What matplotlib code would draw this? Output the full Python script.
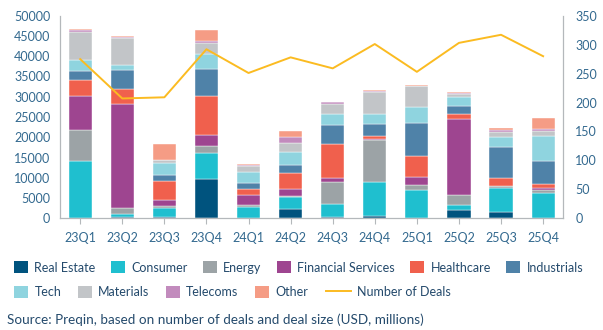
import matplotlib
matplotlib.use("Agg")
import matplotlib.pyplot as plt
from matplotlib.patches import Patch
from matplotlib.lines import Line2D
from matplotlib.ticker import MultipleLocator
import numpy as np

plt.rcParams["font.family"] = ["Lato", "DejaVu Sans"]

quarters = ["23Q1", "23Q2", "23Q3", "23Q4", "24Q1", "24Q2",
            "24Q3", "24Q4", "25Q1", "25Q2", "25Q3", "25Q4"]

# deal size by sector, USD millions
real_estate = [0, 400, 350, 9800, 0, 2200, 300, 450, 0, 1950, 1500, 0]
consumer = [14100, 550, 2300, 6250, 2700, 2950, 3150, 8450, 7050, 1250, 6050, 6300]
energy = [7650, 1500, 400, 1800, 650, 350, 5450, 10400, 1100, 2450, 500, 600]
financial = [8550, 25800, 1400, 2700, 2300, 1750, 1000, 250, 2000, 18750, 0, 650]
healthcare = [3950, 3650, 4750, 9700, 1500, 4000, 8550, 750, 5100, 1400, 1950, 850]
industrials = [2200, 4650, 1500, 6500, 1550, 1850, 4600, 2900, 8250, 1900, 7650, 5750]
tech = [2600, 1300, 2900, 3700, 2650, 3200, 2700, 2550, 3950, 2150, 2400, 6150]
materials = [6900, 6650, 900, 2850, 1650, 2200, 2550, 5300, 5250, 800, 1250, 1300]
telecoms = [400, 300, 0, 400, 150, 1550, 400, 300, 0, 250, 500, 400]
other = [250, 250, 3900, 2700, 300, 1500, 100, 250, 250, 350, 550, 2650]

num_deals = [275, 207, 209, 292, 251, 278, 259, 301, 253, 303, 317, 280]

sectors = [
    ("Real Estate", real_estate, "#00537e"),
    ("Consumer", consumer, "#1fbfcf"),
    ("Energy", energy, "#9ca3a6"),
    ("Financial Services", financial, "#9e4590"),
    ("Healthcare", healthcare, "#f0604d"),
    ("Industrials", industrials, "#4f82a8"),
    ("Tech", tech, "#8fd4df"),
    ("Materials", materials, "#c2c5c8"),
    ("Telecoms", telecoms, "#c28bbd"),
    ("Other", other, "#f59c85"),
]
LINE_C = "#fbbb21"
TICK_C = "#33698f"
TEXT_C = "#244a6c"
AXIS_C = "#b4b8bb"

fig = plt.figure(figsize=(6.03, 3.30), dpi=100)
ax = fig.add_axes([0.0995, 0.3385, 0.834, 0.614])

x = np.arange(len(quarters))
bottom = np.zeros(len(quarters))
for name, vals, col in sectors:
    ax.bar(x, vals, 0.55, bottom=bottom, color=col, edgecolor="white",
           linewidth=0.3, label=name, zorder=2)
    bottom += np.array(vals)

ax.set_xlim(-0.48, 11.47)
ax.set_ylim(0, 50000)
ax.set_xticks(x)
ax.set_xticklabels(quarters)
ax.yaxis.set_major_locator(MultipleLocator(5000))
ax.yaxis.set_minor_locator(MultipleLocator(10000))
ax.tick_params(axis="y", which="major", length=0, pad=7, labelsize=9, labelcolor=TICK_C)
ax.tick_params(axis="y", which="minor", length=5, width=0.8, color=AXIS_C)
ax.tick_params(axis="x", length=4, width=0.8, color=AXIS_C, pad=6, labelsize=9,
               labelcolor=TICK_C)
for s in ["top", "right"]:
    ax.spines[s].set_visible(False)
for s in ["left", "bottom"]:
    ax.spines[s].set_color(AXIS_C)
    ax.spines[s].set_linewidth(0.9)

ax2 = ax.twinx()
ax2.plot(x, num_deals, color=LINE_C, linewidth=1.4, zorder=3)
ax2.set_ylim(0, 350)
ax2.yaxis.set_major_locator(MultipleLocator(50))
ax2.set_yticks([50, 150, 250, 350], minor=True)
ax2.tick_params(axis="y", which="major", length=0, pad=9, labelsize=9, labelcolor=TICK_C)
ax2.tick_params(axis="y", which="minor", length=6, width=0.8, color=AXIS_C)
for s in ["top", "left", "bottom"]:
    ax2.spines[s].set_visible(False)
ax2.spines["right"].set_color(AXIS_C)
ax2.spines["right"].set_linewidth(0.9)

# legend laid out as two flowing rows
patches = [Patch(facecolor=c, edgecolor="none", label=n) for n, _, c in sectors]
common = dict(frameon=False, fontsize=9, labelcolor=TEXT_C, borderpad=0,
              borderaxespad=0, handlelength=1.15, handleheight=1.15,
              handletextpad=0.5, loc="center left")
fig.legend(handles=patches[:6], ncol=6, columnspacing=1.2,
           bbox_to_anchor=(0.023, 0.19), **common)
fig.legend(handles=patches[6:], ncol=4, columnspacing=1.3,
           bbox_to_anchor=(0.023, 0.115), **common)
line_h = [Line2D([], [], color=LINE_C, linewidth=1.4, label="Number of Deals")]
common.update(handlelength=2.0)
fig.legend(handles=line_h, bbox_to_anchor=(0.54, 0.115), **common)

fig.text(0.012, 0.03, "Source: Preqin, based on number of deals and deal size (USD, millions)",
         fontsize=9.7, color=TEXT_C, va="center")

fig.savefig("out.png", dpi=100)
